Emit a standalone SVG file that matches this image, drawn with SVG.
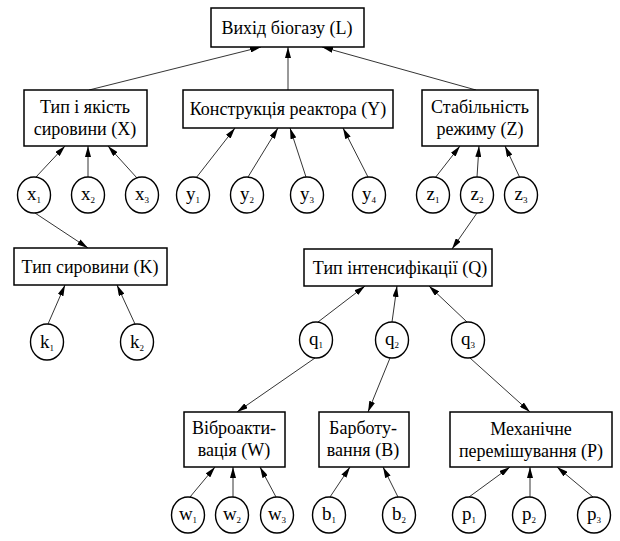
<svg xmlns="http://www.w3.org/2000/svg" width="620" height="541" viewBox="0 0 620 541">
<style>
.box{fill:#fff;stroke:#000;stroke-width:1.5}
.c{fill:#fff;stroke:#000;stroke-width:1.4}
text{font-family:'Liberation Serif','DejaVu Serif',serif;fill:#000;text-anchor:middle}
.t{font-size:18px}
.l{font-size:19px}
.s{font-size:9px}
#edges line{stroke:#000;stroke-width:0.8;marker-end:url(#ah)}
</style>
<defs>
<marker id="ah" markerUnits="userSpaceOnUse" markerWidth="12" markerHeight="6" refX="11" refY="3" orient="auto">
<path d="M0,0 L11,3 L0,6 z" fill="#000"/>
</marker>
</defs>
<rect width="620" height="541" fill="#fff"/>
<g id="edges">
<line x1="89" y1="90" x2="261" y2="47"/>
<line x1="288" y1="90" x2="288" y2="47"/>
<line x1="476" y1="90" x2="322" y2="47"/>
<line x1="36" y1="177" x2="65" y2="146"/>
<line x1="88" y1="177" x2="88" y2="146"/>
<line x1="137" y1="178" x2="108" y2="146"/>
<line x1="196" y1="178" x2="235" y2="128"/>
<line x1="248" y1="177" x2="278" y2="128"/>
<line x1="306" y1="177" x2="290" y2="128"/>
<line x1="368" y1="177" x2="343" y2="128"/>
<line x1="435" y1="178" x2="460" y2="146"/>
<line x1="477" y1="177" x2="479" y2="146"/>
<line x1="520" y1="178" x2="505" y2="146"/>
<line x1="35" y1="213" x2="88" y2="248"/>
<line x1="477" y1="213" x2="452" y2="249"/>
<line x1="48" y1="324" x2="65" y2="285"/>
<line x1="135" y1="324" x2="117" y2="285"/>
<line x1="318" y1="322" x2="365" y2="286"/>
<line x1="392" y1="322" x2="397" y2="286"/>
<line x1="467" y1="322" x2="429" y2="286"/>
<line x1="315" y1="358" x2="237" y2="412"/>
<line x1="390" y1="358" x2="368" y2="412"/>
<line x1="470" y1="358" x2="530" y2="412"/>
<line x1="190" y1="497" x2="215" y2="467"/>
<line x1="233" y1="497" x2="233" y2="467"/>
<line x1="276" y1="497" x2="260" y2="467"/>
<line x1="330" y1="497" x2="350" y2="467"/>
<line x1="398" y1="497" x2="383" y2="467"/>
<line x1="469" y1="497" x2="510" y2="467"/>
<line x1="530" y1="497" x2="530" y2="467"/>
<line x1="593" y1="497" x2="557" y2="467"/>
</g>
<g id="L"><rect class="box" x="211" y="8" width="153" height="39"/><text class="t" x="287" y="34">Вихід біогазу (L)</text></g>
<g id="X"><rect class="box" x="24" y="90" width="123" height="56"/><text class="t" x="85" y="113">Тип і якість</text><text class="t" x="85" y="135">сировини (X)</text></g>
<g id="Y"><rect class="box" x="183" y="90" width="210" height="38"/><text class="t" x="288" y="115">Конструкція реактора (Y)</text></g>
<g id="Z"><rect class="box" x="422" y="90" width="116" height="56"/><text class="t" x="480" y="113">Стабільність</text><text class="t" x="480" y="135">режиму (Z)</text></g>
<g id="K"><rect class="box" x="14" y="248" width="153" height="37"/><text class="t" x="90" y="273">Тип сировини (K)</text></g>
<g id="Q"><rect class="box" x="304" y="249" width="188" height="37"/><text class="t" x="400" y="274">Тип інтенсифікації (Q)</text></g>
<g id="W"><rect class="box" x="184" y="412" width="101" height="55"/><text class="t" x="234" y="434">Віброакти-</text><text class="t" x="234" y="456">вація (W)</text></g>
<g id="B"><rect class="box" x="319" y="412" width="90" height="55"/><text class="t" x="363" y="434">Барботу-</text><text class="t" x="363" y="456">вання (B)</text></g>
<g id="P"><rect class="box" x="450" y="412" width="162" height="55"/><text class="t" x="531" y="435">Механічне</text><text class="t" x="531" y="457">перемішування (P)</text></g>
<g id="x1"><ellipse class="c" cx="34" cy="195" rx="16.5" ry="18"/><text class="l" x="34" y="200">x<tspan class="s" dy="3">1</tspan></text></g>
<g id="x2"><ellipse class="c" cx="88" cy="195" rx="16.5" ry="18"/><text class="l" x="88" y="200">x<tspan class="s" dy="3">2</tspan></text></g>
<g id="x3"><ellipse class="c" cx="142" cy="195" rx="16.5" ry="18"/><text class="l" x="142" y="200">x<tspan class="s" dy="3">3</tspan></text></g>
<g id="y1"><ellipse class="c" cx="193" cy="195" rx="16.5" ry="18"/><text class="l" x="193" y="200">y<tspan class="s" dy="3">1</tspan></text></g>
<g id="y2"><ellipse class="c" cx="247" cy="195" rx="16.5" ry="18"/><text class="l" x="247" y="200">y<tspan class="s" dy="3">2</tspan></text></g>
<g id="y3"><ellipse class="c" cx="307" cy="195" rx="16.5" ry="18"/><text class="l" x="307" y="200">y<tspan class="s" dy="3">3</tspan></text></g>
<g id="y4"><ellipse class="c" cx="369" cy="195" rx="16.5" ry="18"/><text class="l" x="369" y="200">y<tspan class="s" dy="3">4</tspan></text></g>
<g id="z1"><ellipse class="c" cx="433" cy="195" rx="16.5" ry="18"/><text class="l" x="433" y="200">z<tspan class="s" dy="3">1</tspan></text></g>
<g id="z2"><ellipse class="c" cx="477" cy="195" rx="16.5" ry="18"/><text class="l" x="477" y="200">z<tspan class="s" dy="3">2</tspan></text></g>
<g id="z3"><ellipse class="c" cx="521" cy="195" rx="16.5" ry="18"/><text class="l" x="521" y="200">z<tspan class="s" dy="3">3</tspan></text></g>
<g id="k1"><ellipse class="c" cx="47" cy="342" rx="16.5" ry="18"/><text class="l" x="47" y="348">k<tspan class="s" dy="3">1</tspan></text></g>
<g id="k2"><ellipse class="c" cx="137" cy="342" rx="16.5" ry="18"/><text class="l" x="137" y="348">k<tspan class="s" dy="3">2</tspan></text></g>
<g id="q1"><ellipse class="c" cx="316" cy="340" rx="16.5" ry="18"/><text class="l" x="316" y="345">q<tspan class="s" dy="3">1</tspan></text></g>
<g id="q2"><ellipse class="c" cx="392" cy="340" rx="16.5" ry="18"/><text class="l" x="392" y="345">q<tspan class="s" dy="3">2</tspan></text></g>
<g id="q3"><ellipse class="c" cx="468" cy="340" rx="16.5" ry="18"/><text class="l" x="468" y="345">q<tspan class="s" dy="3">3</tspan></text></g>
<g id="w1"><ellipse class="c" cx="188" cy="515" rx="16.5" ry="18"/><text class="l" x="188" y="520">w<tspan class="s" dy="3">1</tspan></text></g>
<g id="w2"><ellipse class="c" cx="232" cy="515" rx="16.5" ry="18"/><text class="l" x="232" y="520">w<tspan class="s" dy="3">2</tspan></text></g>
<g id="w3"><ellipse class="c" cx="277" cy="515" rx="16.5" ry="18"/><text class="l" x="277" y="520">w<tspan class="s" dy="3">3</tspan></text></g>
<g id="b1"><ellipse class="c" cx="329" cy="515" rx="16.5" ry="18"/><text class="l" x="329" y="520">b<tspan class="s" dy="3">1</tspan></text></g>
<g id="b2"><ellipse class="c" cx="399" cy="515" rx="16.5" ry="18"/><text class="l" x="399" y="520">b<tspan class="s" dy="3">2</tspan></text></g>
<g id="p1"><ellipse class="c" cx="469" cy="515" rx="16.5" ry="18"/><text class="l" x="469" y="520">p<tspan class="s" dy="3">1</tspan></text></g>
<g id="p2"><ellipse class="c" cx="529" cy="515" rx="16.5" ry="18"/><text class="l" x="529" y="520">p<tspan class="s" dy="3">2</tspan></text></g>
<g id="p3"><ellipse class="c" cx="594" cy="515" rx="16.5" ry="18"/><text class="l" x="594" y="520">p<tspan class="s" dy="3">3</tspan></text></g>
</svg>
